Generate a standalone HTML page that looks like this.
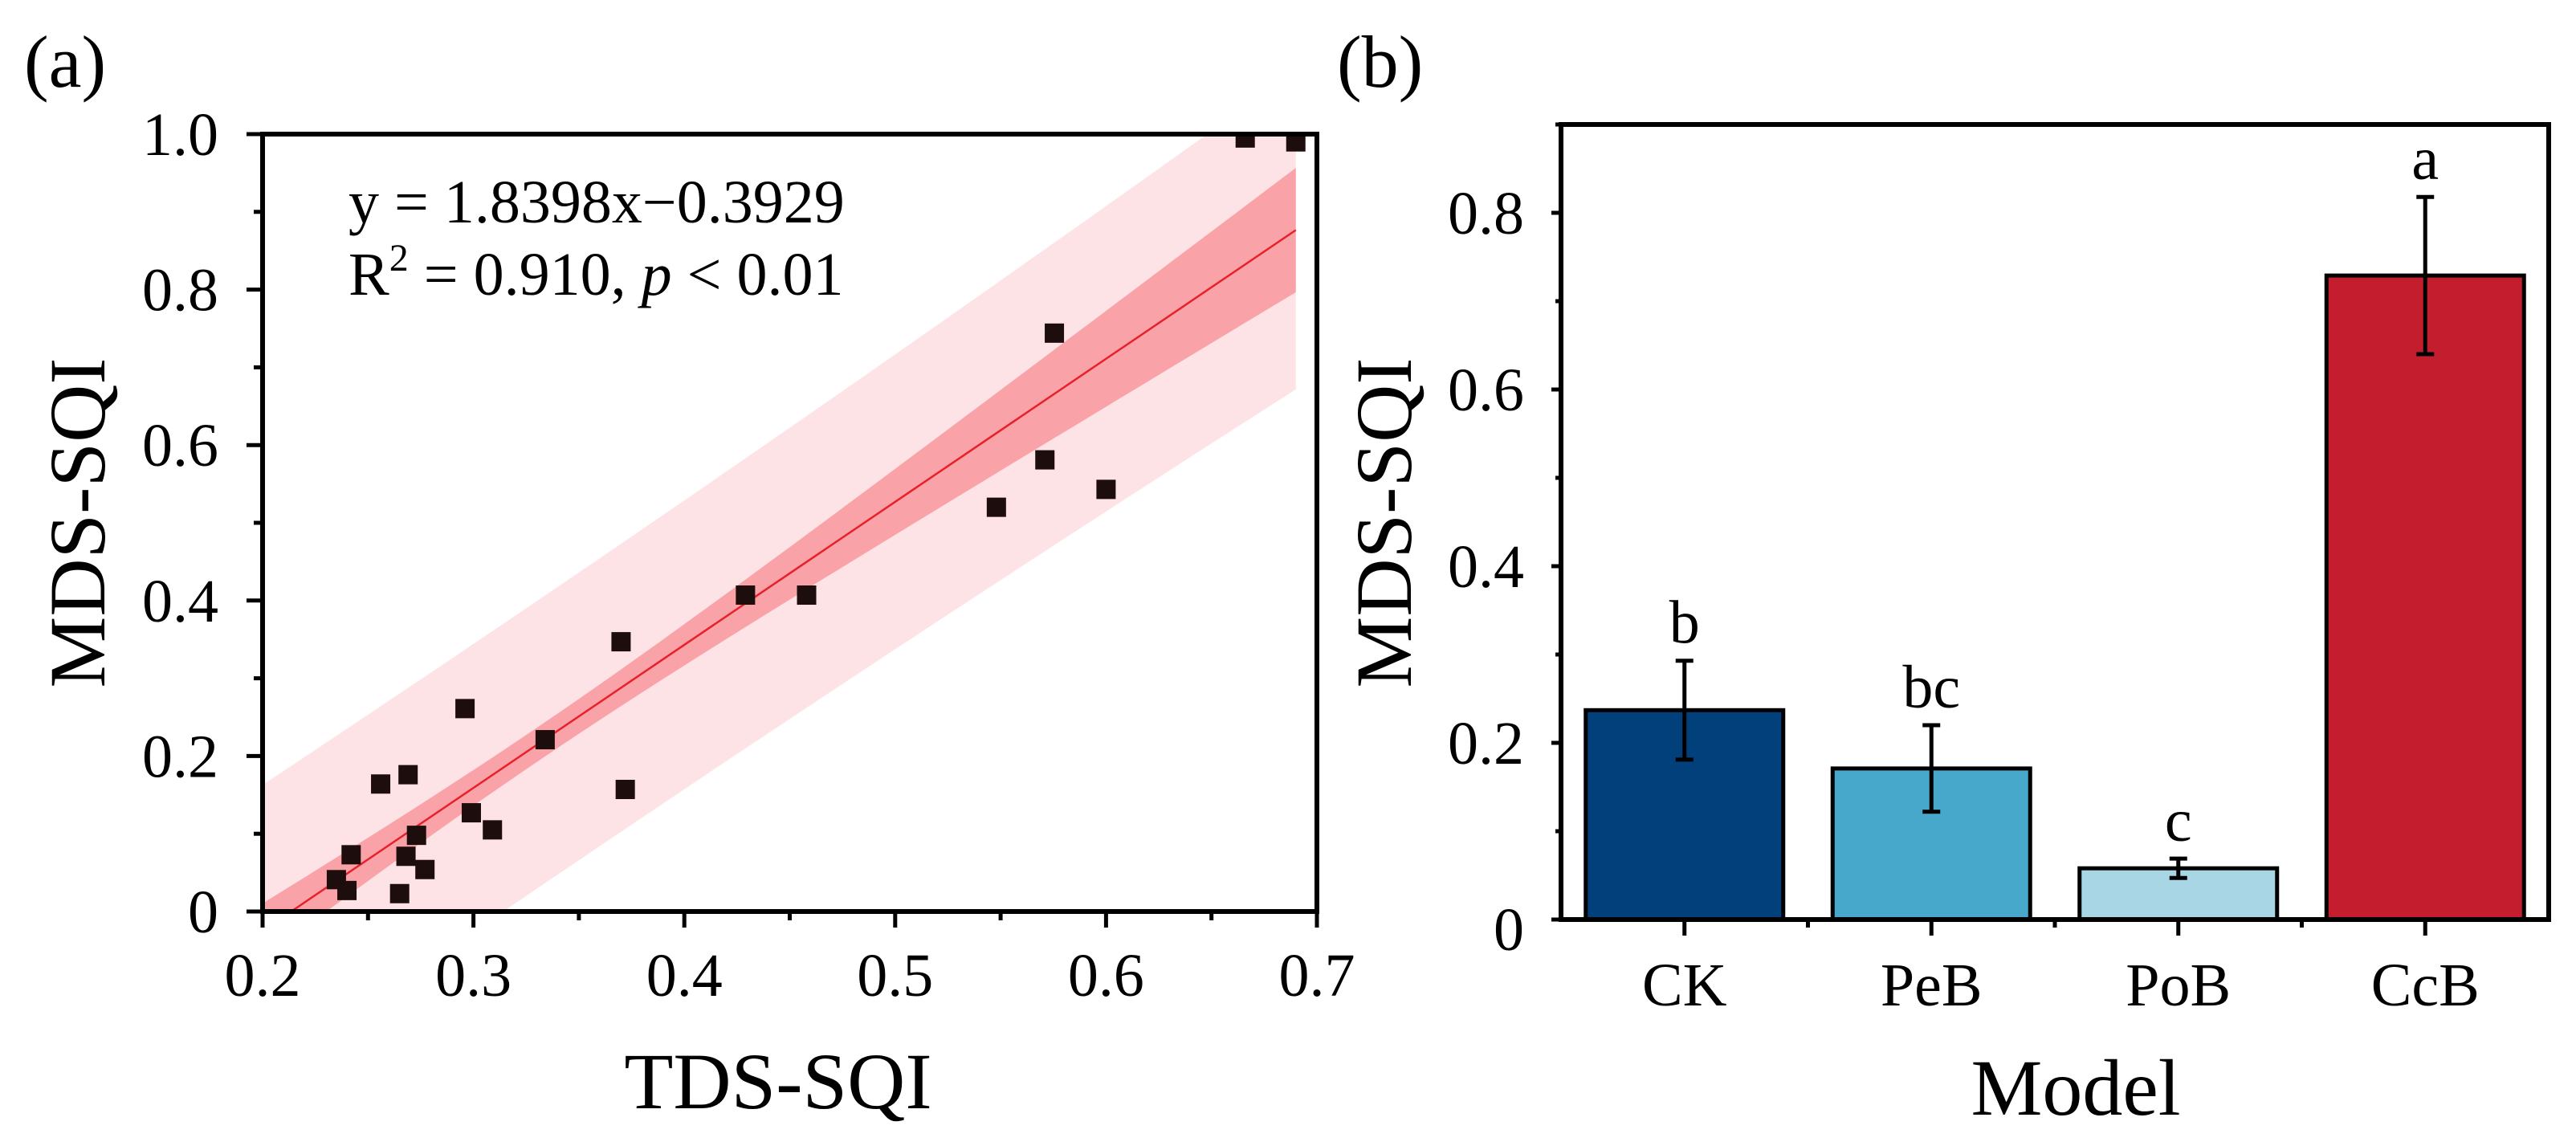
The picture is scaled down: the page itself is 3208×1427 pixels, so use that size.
<!DOCTYPE html>
<html><head><meta charset="utf-8"><style>
html,body{margin:0;padding:0;background:#fff;}
svg{display:block;font-family:"Liberation Serif",serif;}
</style></head><body>
<svg id="fig" width="3208" height="1427" viewBox="0 0 3208 1427" xmlns="http://www.w3.org/2000/svg">
<g id="pa"></g>
<g id="pb"></g>
</svg>
<script>
// ---- Panel (a) data ----
const tdsX = [0.666,0.690,0.5755,0.571,0.600,0.548,0.429,0.458,0.370,0.296,0.334,0.372,0.256,0.269,0.299,0.309,0.273,0.242,0.268,0.277,0.235,0.240,0.265];
const mdsY = [0.995,0.990,0.744,0.581,0.543,0.520,0.407,0.407,0.347,0.261,0.221,0.157,0.164,0.176,0.127,0.105,0.098,0.073,0.071,0.054,0.041,0.027,0.023];
const slope = 1.8398, intercept = -0.3929;
const aXTicks = [0.2,0.3,0.4,0.5,0.6,0.7];
const aXTickLabels = ["0.2","0.3","0.4","0.5","0.6","0.7"];
const aYTicks = [0,0.2,0.4,0.6,0.8,1.0];
const aYTickLabels = ["0","0.2","0.4","0.6","0.8","1.0"];
// ---- Panel (b) data ----
const models = ["CK","PeB","PoB","CcB"];
const barVals = [0.237,0.171,0.058,0.729];
const barErr = [0.056,0.049,0.011,0.089];
const sigLetters = ["b","bc","c","a"];
const barColors = ["#02407b","#47a8cb","#a9d6e5","#c41e2e"];
const bYTicks = [0,0.2,0.4,0.6,0.8];
const bYTickLabels = ["0","0.2","0.4","0.6","0.8"];

const NS="http://www.w3.org/2000/svg";
function mk(parent,tag,attrs,text){const e=document.createElementNS(NS,tag);for(const k in attrs)e.setAttribute(k,attrs[k]);if(text!==undefined)e.textContent=text;parent.appendChild(e);return e;}

// ===== Panel A =====
const pa=document.getElementById('pa');
const aL=327,aR=1640,aT=167,aB=1135;
const ax=v=>aL+(v-0.2)/0.5*(aR-aL);
const ay=v=>aB-v/1.0*(aB-aT);
mk(pa,'clipPath',{id:'clipA'}).appendChild(document.createElementNS(NS,'rect'));
const cr=document.querySelector('#clipA rect');cr.setAttribute('x',aL);cr.setAttribute('y',aT);cr.setAttribute('width',aR-aL);cr.setAttribute('height',aB-aT);
// bands
const xm=0.33;
const confHW=x=>Math.sqrt(0.022*0.022+0.0456*(x-xm)*(x-xm));
const predHW=x=>Math.sqrt(0.185*0.185+0.06*(x-xm)*(x-xm));
function band(hw,fill,name){
  let up=[],dn=[];
  for(let i=0;i<=60;i++){const x=0.2+i*(0.69-0.2)/60;const m=slope*x+intercept;up.push(ax(x)+','+ay(m+hw(x)));dn.unshift(ax(x)+','+ay(m-hw(x)));}
  const p=mk(pa,'polygon',{points:up.concat(dn).join(' '),fill:fill,'clip-path':'url(#clipA)'});
  
  
}
band(predHW,'#fde3e5','prediction-band');
band(confHW,'#f9a3a9','confidence-band');
const x0=-intercept/slope, x1=0.69;
const fl=mk(pa,'line',{x1:ax(x0),y1:ay(slope*x0+intercept),x2:ax(x1),y2:ay(slope*x1+intercept),stroke:'#e8202a','stroke-width':2.5,'clip-path':'url(#clipA)'});


// points
for(let i=0;i<tdsX.length;i++){
  const r=mk(pa,'rect',{x:ax(tdsX[i])-12,y:ay(mdsY[i])-12,width:24,height:24,fill:'#1e0d0d','clip-path':'url(#clipA)'});
  
  
}
// frame
const fa=mk(pa,'rect',{x:aL,y:aT,width:aR-aL,height:aB-aT,fill:'none',stroke:'#000','stroke-width':6});


// x ticks
for(let i=0;i<aXTicks.length;i++){
  const X=ax(aXTicks[i]);
  mk(pa,'line',{x1:X,y1:aB,x2:X,y2:aB+20,stroke:'#000','stroke-width':5});
  const t=mk(pa,'text',{x:X,y:1240,'font-size':76,'text-anchor':'middle'},aXTickLabels[i]);
  
  
  if(i<aXTicks.length-1) mk(pa,'line',{x1:ax(aXTicks[i]+0.05),y1:aB,x2:ax(aXTicks[i]+0.05),y2:aB+11,stroke:'#000','stroke-width':5});
}
for(let i=0;i<aYTicks.length;i++){
  const Y=ay(aYTicks[i]);
  mk(pa,'line',{x1:aL-20,y1:Y,x2:aL,y2:Y,stroke:'#000','stroke-width':5});
  const t=mk(pa,'text',{x:272,y:Y+26,'font-size':76,'text-anchor':'end'},aYTickLabels[i]);
  
  
  if(i<aYTicks.length-1) mk(pa,'line',{x1:aL-11,y1:ay(aYTicks[i]+0.1),x2:aL,y2:ay(aYTicks[i]+0.1),stroke:'#000','stroke-width':5});
}
let t;
t=mk(pa,'text',{x:969,y:1380,'font-size':100,'text-anchor':'middle'},'TDS-SQI');

t=mk(pa,'text',{x:0,y:0,'font-size':100,'text-anchor':'middle',transform:'translate(130,651) rotate(-90)'},'MDS-SQI');

t=mk(pa,'text',{x:30,y:108,'font-size':92},'(a)');

t=mk(pa,'text',{x:434,y:277,'font-size':76},'y = 1.8398x\u22120.3929');

t=mk(pa,'text',{x:434,y:367,'font-size':76});

t.innerHTML='R<tspan font-size="48" dy="-30">2</tspan><tspan dy="30"> = 0.910, </tspan><tspan font-style="italic">p</tspan> &lt; 0.01';

// ===== Panel B =====
const pb=document.getElementById('pb');
const bL=1944,bR=3174,bT=155,bB=1145;
const by=v=>bB-v/0.9*(bB-bT);
const slot=(bR-bL)/models.length;
const bw=slot*0.8;
for(let i=0;i<models.length;i++){
  const cx=bL+slot*(i+0.5);
  const r=mk(pb,'rect',{x:cx-bw/2,y:by(barVals[i]),width:bw,height:bB-by(barVals[i]),fill:barColors[i],stroke:'#000','stroke-width':5});
  
  
  const hi=by(barVals[i]+barErr[i]),lo=by(barVals[i]-barErr[i]);
  const g=mk(pb,'g',{stroke:'#000','stroke-width':5});
  
  
  mk(g,'line',{x1:cx,y1:hi,x2:cx,y2:lo});
  mk(g,'line',{x1:cx-11,y1:hi,x2:cx+11,y2:hi});
  mk(g,'line',{x1:cx-11,y1:lo,x2:cx+11,y2:lo});
  const s=mk(pb,'text',{x:cx,y:hi-22,'font-size':76,'text-anchor':'middle'},sigLetters[i]);
  
  
  mk(pb,'line',{x1:cx,y1:bB,x2:cx,y2:bB+20,stroke:'#000','stroke-width':5});
  const l=mk(pb,'text',{x:cx,y:1252,'font-size':76,'text-anchor':'middle'},models[i]);
  
  
  if(i>0) mk(pb,'line',{x1:bL+slot*i,y1:bB,x2:bL+slot*i,y2:bB+10,stroke:'#000','stroke-width':5});
}
const fb=mk(pb,'rect',{x:bL,y:bT,width:bR-bL,height:bB-bT,fill:'none',stroke:'#000','stroke-width':6});


for(let i=0;i<bYTicks.length;i++){
  const Y=by(bYTicks[i]);
  mk(pb,'line',{x1:bL-12,y1:Y,x2:bL,y2:Y,stroke:'#000','stroke-width':5});
  mk(pb,'line',{x1:bL-7,y1:by(bYTicks[i]+0.1),x2:bL,y2:by(bYTicks[i]+0.1),stroke:'#000','stroke-width':5});
  const l=mk(pb,'text',{x:1898,y:Y+26+(i==0?12:0),'font-size':76,'text-anchor':'end'},bYTickLabels[i]);
  
  
}
t=mk(pb,'text',{x:2585,y:1388,'font-size':100,'text-anchor':'middle'},'Model');

t=mk(pb,'text',{x:0,y:0,'font-size':100,'text-anchor':'middle',transform:'translate(1757,651) rotate(-90)'},'MDS-SQI');

t=mk(pb,'text',{x:1665,y:108,'font-size':92},'(b)');

</script>
</body></html>
